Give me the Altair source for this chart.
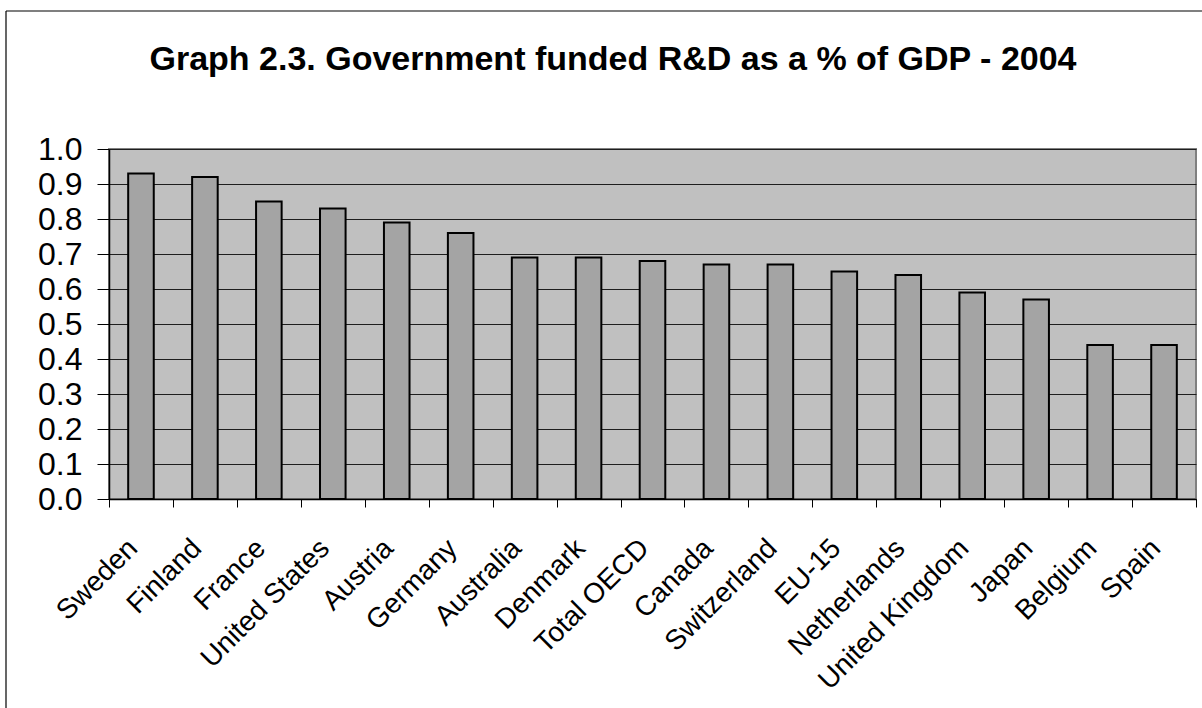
import altair as alt
import pandas as pd

# Government-funded R&D as a share of GDP, 2004
countries = [
    "Sweden", "Finland", "France", "United States", "Austria", "Germany",
    "Australia", "Denmark", "Total OECD", "Canada", "Switzerland", "EU-15",
    "Netherlands", "United Kingdom", "Japan", "Belgium", "Spain",
]
shares = [0.93, 0.92, 0.85, 0.83, 0.79, 0.76, 0.69, 0.69, 0.68, 0.67,
          0.67, 0.65, 0.64, 0.59, 0.57, 0.44, 0.44]
y_ticks = [0.0, 0.1, 0.2, 0.3, 0.4, 0.5, 0.6, 0.7, 0.8, 0.9, 1.0]
title_text = "Graph 2.3. Government funded R&D as a % of GDP - 2004"

df = pd.DataFrame({"country": countries, "share": shares})

FONT = "Liberation Sans"
W, H = 1087, 350
PAD_L, PAD_T = 109, 149

bars = alt.Chart(df).mark_bar(
    width=alt.RelativeBandSize(0.4),
    color="#A4A4A4",
    stroke="black",
    strokeWidth=2,
).encode(
    x=alt.X(
        "country:N",
        sort=countries,
        scale=alt.Scale(paddingInner=0, paddingOuter=0),
        axis=alt.Axis(
            title=None,
            labelAngle=-45,
            labelAlign="right",
            labelBaseline="top",
            labelPadding=27,
            labelOffset=-18,
            tickBand="extent",
            tickSize=8,
            tickColor="black",
            tickWidth=1,
            domainColor="black",
            domainWidth=1.5,
            labelFont=FONT,
            labelFontSize=28,
            labelColor="black",
            labelOverlap=False,
            labelLimit=0,
            grid=False,
        ),
    ),
    y=alt.Y(
        "share:Q",
        scale=alt.Scale(domain=[0, 1], nice=False),
        axis=alt.Axis(
            title=None,
            values=y_ticks,
            format=".1f",
            tickSize=12,
            tickColor="black",
            tickWidth=1,
            labelPadding=15,
            labelFont=FONT,
            labelFontSize=32,
            labelColor="black",
            domainColor="black",
            domainWidth=1.5,
            grid=True,
            gridColor="#1e1e1e",
            gridWidth=1,
            labelOverlap=False,
        ),
    ),
)

anchor = alt.Chart(pd.DataFrame({"k": [0]}))

# Outer chart frame (left and top edges)
frame_left = anchor.mark_rule(color="black", strokeWidth=1.2).encode(
    x=alt.value(6 - PAD_L), y=alt.value(11 - PAD_T), y2=alt.value(708 - PAD_T)
)
frame_top = anchor.mark_rule(color="black", strokeWidth=1.2).encode(
    y=alt.value(11 - PAD_T), x=alt.value(6 - PAD_L), x2=alt.value(1202 - PAD_L)
)

title = anchor.mark_text(
    text=title_text,
    font=FONT,
    fontSize=34,
    fontWeight="bold",
    color="black",
    align="center",
    baseline="alphabetic",
).encode(x=alt.value(613 - PAD_L), y=alt.value(70 - PAD_T))

chart = alt.layer(bars, frame_left, frame_top, title).properties(
    width=W,
    height=H,
    autosize=alt.AutoSizeParams(type="none"),
    padding={"left": PAD_L, "top": PAD_T, "right": 1202 - PAD_L - W, "bottom": 708 - PAD_T - H},
    background="white",
).configure_view(
    fill="#C0C0C0",
    stroke="#808080",
    strokeWidth=2,
)

chart.save("out.html", embed_options={"renderer": "svg", "actions": False})
